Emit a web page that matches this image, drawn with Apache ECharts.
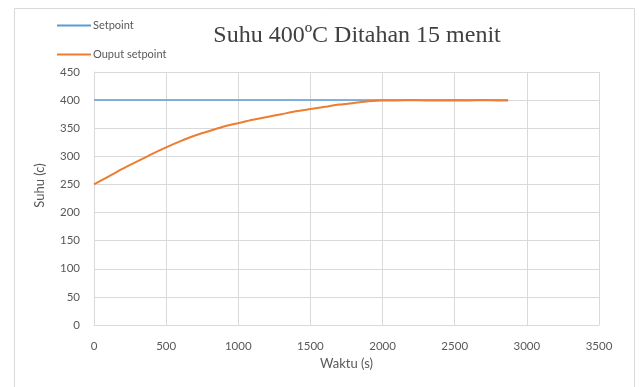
<!DOCTYPE html>
<html>
<head>
<meta charset="utf-8">
<script src="https://cdn.jsdelivr.net/npm/echarts@6/dist/echarts.min.js"></script>
<style>
  html, body { margin: 0; padding: 0; background: #fff; }
  #chart { width: 639px; height: 387px; }
</style>
</head>
<body>
<div id="chart"></div>
<script>
// Time (s) of each reading
const waktu = [0, 100, 200, 300, 400, 500, 600, 700, 800, 900, 1000, 1100, 1200, 1300, 1400,
  1500, 1600, 1700, 1800, 1900, 2000, 2100, 2200, 2300, 2400, 2500, 2600, 2700, 2800, 2870];
// Measured temperature (°C)
const outputSetpoint = [250, 264, 278, 291, 304, 316, 327, 337, 345, 353, 359, 365, 370, 375, 380,
  384, 388, 392, 395, 398, 399.5, 399.5, 399.8, 399.5, 399.3, 399.6, 399.4, 399.7, 399.4, 399.5];
// Setpoint held constant over the run
const setpointValue = 400;
const setpointRange = [0, 2870];

const xTicks = { min: 0, max: 3500, interval: 500 };
const yTicks = { min: 0, max: 450, interval: 50 };

const setpointData = setpointRange.map(t => [t, setpointValue]);
const outputData = waktu.map((t, i) => [t, outputSetpoint[i]]);

const chart = echarts.init(document.getElementById('chart'));
const labelFont = 'Lato, "Noto Sans", sans-serif';
const gray = '#595959';
const gridColor = '#d9d9d9';

chart.setOption({
  animation: false,
  backgroundColor: '#fff',
  graphic: [{
    type: 'rect',
    shape: { x: 14.5, y: 8.5, width: 620, height: 390 },
    style: { fill: 'none', stroke: gridColor, lineWidth: 1 },
    silent: true
  }],
  title: {
    text: 'Suhu 400ºC Ditahan 15 menit',
    left: 352, top: 19, textAlign: 'center',
    textStyle: { fontFamily: '"Liberation Serif", "DejaVu Serif", serif', fontSize: 24, fontWeight: 'normal', color: '#404040' }
  },
  legend: {
    orient: 'vertical',
    left: 52, top: 15,
    itemGap: 18,
    itemWidth: 34, itemHeight: 2,
    icon: 'rect',
    textStyle: { fontFamily: labelFont, fontSize: 11, color: gray, padding: [0, 0, 0, -3] },
    data: ['Setpoint', 'Ouput setpoint']
  },
  grid: { left: 94, right: 40, top: 72, bottom: 62, containLabel: false },
  xAxis: {
    type: 'value',
    min: xTicks.min, max: xTicks.max, interval: xTicks.interval,
    name: 'Waktu (s)', nameLocation: 'middle', nameGap: 30,
    nameTextStyle: { fontFamily: labelFont, fontSize: 13, color: gray },
    axisLine: { show: true, lineStyle: { color: gridColor } },
    axisTick: { show: false },
    axisLabel: { fontFamily: labelFont, fontSize: 11.5, color: gray, margin: 15, formatter: v => String(v) },
    splitLine: { show: true, lineStyle: { color: gridColor, width: 1 } }
  },
  yAxis: {
    type: 'value',
    min: yTicks.min, max: yTicks.max, interval: yTicks.interval,
    name: 'Suhu (c)', nameLocation: 'middle', nameGap: 48, nameRotate: 90,
    nameTextStyle: { fontFamily: labelFont, fontSize: 13, color: gray, padding: [0, 0, 0, 26] },
    axisLine: { show: true, lineStyle: { color: gridColor } },
    axisTick: { show: false },
    axisLabel: { fontFamily: labelFont, fontSize: 11.5, color: gray, margin: 14, formatter: v => String(v) },
    splitLine: { show: true, lineStyle: { color: gridColor, width: 1 } }
  },
  series: [
    {
      name: 'Setpoint', type: 'line', data: setpointData,
      showSymbol: false, symbol: 'none',
      lineStyle: { color: '#5b9bd5', width: 1.5 },
      itemStyle: { color: '#5b9bd5' }
    },
    {
      name: 'Ouput setpoint', type: 'line', data: outputData,
      showSymbol: false, symbol: 'none', smooth: 0.25,
      lineStyle: { color: '#ed7d31', width: 2 },
      itemStyle: { color: '#ed7d31' }
    }
  ]
});
</script>
</body>
</html>
